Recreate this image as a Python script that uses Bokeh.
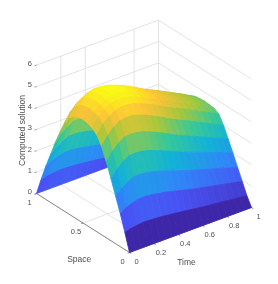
from bokeh.plotting import figure
from bokeh.models import Range1d
from bokeh.embed import file_html
from bokeh.resources import INLINE
from bokeh.core.properties import value

# ---- data ----
time_ticks = [0, 0.2, 0.4, 0.6, 0.8, 1]
space_ticks = [0, 0.5, 1]
z_ticks = [0, 1, 2, 3, 4, 5, 6]
time_grid_shown = [0.2, 0.4, 0.8, 1]
times = [0, .05, .1, .15, .2, .25, .3, .35, .4, .45, .5, .55, .6, .65, .7, .75, .8, .85, .9, .95, 1]
spaces = [0, .05, .1, .15, .2, .25, .3, .35, .4, .45, .5, .55, .6, .65, .7, .75, .8, .85, .9, .95, 1]
# solution at space = .05 ... .5 for each time (the profile is symmetric about space = .5)
u_half = [
    [.80, 1.55, 2.23, 2.91, 3.54, 4.12, 4.51, 4.70, 4.80, 4.85],
    [.88, 1.72, 2.48, 3.24, 3.92, 4.53, 4.92, 5.11, 5.21, 5.25],
    [.92, 1.83, 2.68, 3.48, 4.20, 4.82, 5.19, 5.37, 5.46, 5.50],
    [.96, 1.91, 2.82, 3.66, 4.39, 5.01, 5.35, 5.52, 5.60, 5.63],
    [.95, 1.92, 2.82, 3.68, 4.42, 5.06, 5.42, 5.59, 5.67, 5.70],
    [.93, 1.89, 2.79, 3.64, 4.39, 5.04, 5.42, 5.59, 5.67, 5.70],
    [.91, 1.84, 2.73, 3.58, 4.32, 4.97, 5.36, 5.53, 5.61, 5.64],
    [.87, 1.78, 2.65, 3.48, 4.21, 4.86, 5.25, 5.42, 5.50, 5.53],
    [.84, 1.72, 2.56, 3.37, 4.09, 4.73, 5.13, 5.30, 5.37, 5.40],
    [.80, 1.65, 2.46, 3.24, 3.95, 4.58, 4.99, 5.16, 5.22, 5.25],
    [.76, 1.58, 2.36, 3.13, 3.81, 4.44, 4.85, 5.01, 5.07, 5.10],
    [.72, 1.50, 2.26, 3.00, 3.66, 4.27, 4.68, 4.84, 4.91, 4.93],
    [.68, 1.43, 2.16, 2.88, 3.53, 4.13, 4.54, 4.70, 4.76, 4.78],
    [.64, 1.37, 2.07, 2.77, 3.40, 3.99, 4.41, 4.56, 4.62, 4.64],
    [.61, 1.31, 1.99, 2.66, 3.28, 3.86, 4.28, 4.42, 4.48, 4.50],
    [.58, 1.25, 1.90, 2.55, 3.15, 3.72, 4.13, 4.28, 4.33, 4.35],
    [.55, 1.19, 1.81, 2.44, 3.02, 3.58, 3.99, 4.13, 4.18, 4.20],
    [.51, 1.13, 1.73, 2.33, 2.89, 3.44, 3.85, 3.99, 4.03, 4.05],
    [.48, 1.07, 1.64, 2.23, 2.77, 3.30, 3.71, 3.84, 3.88, 3.90],
    [.45, 1.01, 1.55, 2.11, 2.64, 3.15, 3.55, 3.68, 3.72, 3.74],
    [.42, .95, 1.47, 2.00, 2.51, 3.01, 3.40, 3.53, 3.56, 3.58],
]
parula = [(62, 38, 168), (72, 82, 244), (46, 135, 247), (18, 177, 214),
          (55, 200, 151), (171, 199, 57), (254, 195, 56), (249, 251, 21)]
clim_top = 5.7

# ---- projection: (space, time, z) -> page position ----
X0, Y0 = 129.0, 252.0
TX, TY = 122.0, -45.0
SX, SY = -93.0, -59.0
ZY = -21.4
def proj(s, t, z):
    return X0 + t * TX + s * SX, Y0 + t * TY + s * SY + z * ZY

def color(v):
    f = max(0.0, min(1.0, v / clim_top)) * (len(parula) - 1)
    i = min(int(f), len(parula) - 2)
    a, b = parula[i], parula[i + 1]
    k = f - i
    return "#%02x%02x%02x" % tuple(int(round(a[n] + (b[n] - a[n]) * k)) for n in range(3))

u = [[0] + row + row[-2::-1] + [0] for row in u_half]

p = figure(width=262, height=268, x_range=Range1d(0, 262), y_range=Range1d(268, 0),
           output_backend="svg", toolbar_location=None, min_border=0,
           styles={"filter": "blur(0.55px)"})
p.axis.visible = False
p.grid.visible = False
p.outline_line_color = None
p.background_fill_color = "white"

# walls and floor grid
gx, gy = [], []
def seg(a, b):
    pa, pb = proj(*a), proj(*b)
    gx.append([pa[0], pb[0]]); gy.append([pa[1], pb[1]])
for z in z_ticks:
    seg((1, 0, z), (1, 1, z)); seg((1, 1, z), (0, 1, z))
for t in time_grid_shown:
    seg((1, t, 0), (1, t, 6))
for t in time_ticks:
    seg((0, t, 0), (1, t, 0))
seg((.5, 0, 0), (.5, 1, 0))
p.multi_line(gx, gy, line_color="#dcdcdc", line_width=0.8)

# axis lines and ticks
gx, gy = [], []
seg((0, 0, 0), (1, 0, 0)); seg((0, 0, 0), (0, 1, 0))
for t in time_ticks:
    seg((0, t, 0), (-.02, t, 0))
for s in space_ticks:
    seg((s, 0, 0), (s, -.015, 0))
for z in z_ticks:
    seg((1, 0, z), (1, -.015, z))
p.multi_line(gx, gy, line_color="#707070", line_width=0.8)

# surface, far to near; each facet takes the colour of its first vertex
qx, qy, qc = [], [], []
for j in range(len(spaces) - 2, -1, -1):
    for i in range(len(times) - 2, -1, -1):
        c = [(j, i), (j, i + 1), (j + 1, i + 1), (j + 1, i)]
        pts = [proj(spaces[b], times[a], u[a][b]) for b, a in c]
        qx.append([q[0] for q in pts]); qy.append([q[1] for q in pts])
        qc.append(color(u[i][j]))
p.patches(qx, qy, fill_color=qc, line_color=qc, line_width=0.8)

# labels
F = value("Liberation Sans")
def label(x, y, s, size="7.5px", angle=0):
    p.text([x], [y], text=[s], text_font=F, text_font_size=size, text_color="#505050",
           text_align="center", text_baseline="middle", angle=angle)
for z in z_ticks:
    a = proj(1, 0, z)
    label(a[0] - 6.7, a[1] - 1.7, str(z))
for t in time_ticks:
    a = proj(0, t, 0)
    label(a[0] + 7, a[1] + 9, str(t))
for s in space_ticks:
    a = proj(s, 0, 0)
    label(a[0] - 7, a[1] + 8.5, str(s))
label(21.7, 130, "Computed solution", "8.5px", 1.5708)
label(78.7, 258, "Space", "8.5px")
label(186, 261.7, "Time", "8.5px")

open("out.html", "w").write(file_html(p, INLINE))
